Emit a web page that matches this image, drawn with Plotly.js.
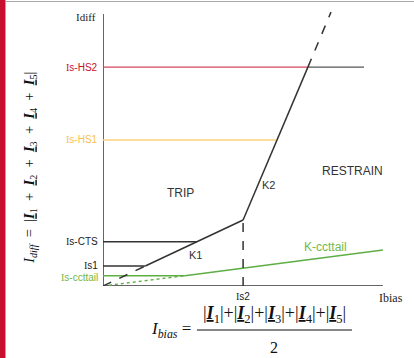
<!DOCTYPE html>
<html>
<head>
<meta charset="utf-8">
<script src="https://cdn.plot.ly/plotly-3.0.1.min.js"></script>
<style>
  html, body { margin: 0; padding: 0; background: #fff; }
  #wrap { position: relative; width: 414px; height: 358px; overflow: hidden; }
  #chart { position: absolute; left: 0; top: 0; width: 414px; height: 358px; }
  #redband { position: absolute; left: 0; top: 0; width: 5px; height: 358px; background: #c8102e; z-index: 5; }
  #grayv { position: absolute; left: 5px; top: 0; width: 1px; height: 358px; background: #a8a8a8; z-index: 5; }
  #grayh { position: absolute; left: 5px; top: 1px; width: 409px; height: 1px; background: #a8a8a8; z-index: 5; }
</style>
</head>
<body>
<div id="wrap">
  <div id="chart"></div>
  <div id="redband"></div>
  <div id="grayv"></div>
  <div id="grayh"></div>
</div>
<script>
// ---- data (arbitrary units) ----
const axisEndX = 9.33;
const axisEndY = 9.89;
const levelNames = ["Is-HS2", "Is-HS1", "Is-CTS", "Is1", "Is-ccttail"];
const levelValues = [7.96, 5.31, 1.61, 0.727, 0.375];
const levelLineEnds = [6.83, 5.80, 3.13, 1.41, 2.73];
const levelColors = ["#d6475f", "#fdd27a", "#333333", "#333333", "#5cae45"];
const levelLabelColors = ["#c8102e", "#f5c24c", "#222222", "#222222", "#72b84a"];
const levelLabelShift = [0, 0, 0, 1, -2];
const hs2ExtX = [6.83, 8.7];
const hs2ExtY = [7.96, 7.96];
const k1DashX = [0, 1.41];
const k1DashY = [0, 0.727];
const k1X = [1.41, 4.67];
const k1Y = [0.727, 2.4];
const is2X = [4.67, 4.67];
const is2Y = [0, 2.4];
const k2X = [4.67, 6.83];
const k2Y = [2.4, 7.96];
const k2DashX = [6.83, 7.6];
const k2DashY = [7.96, 9.96];
const kCcttailX = [2.73, 9.33];
const kCcttailY = [0.375, 1.31];
const ccttailDotX = [0, 2.73];
const ccttailDotY = [0, 0.375];
const is2Tick = 4.67;

const dark = "#333333";
const green = "#5cae45";
const traces = [];
function line(x, y, color, width, dash) {
  traces.push({x: x, y: y, type: "scatter", mode: "lines", hoverinfo: "skip",
    line: {color: color, width: width, dash: dash || "solid"}});
}
// axes
line([0, axisEndX], [0, 0], dark, 1.5);
line([0, 0], [0, axisEndY], dark, 1.5);
// horizontal levels
for (let i = 0; i < levelNames.length; i++) {
  line([0, levelLineEnds[i]], [levelValues[i], levelValues[i]], levelColors[i], 1.4);
}
line(hs2ExtX, hs2ExtY, "#555555", 1.4);
line(ccttailDotX, ccttailDotY, green, 1.4, "dot");
line(kCcttailX, kCcttailY, green, 1.4);
line(k1DashX, k1DashY, dark, 1.5, "dash");
line(k1X, k1Y, dark, 1.5);
line(is2X, is2Y, dark, 1.5, "dash");
line(k2X, k2Y, dark, 1.5);
line(k2DashX, k2DashY, dark, 1.5, "dash");

const sans = "Liberation Sans, Arial, sans-serif";
const serif = "Liberation Serif, Times New Roman, serif";
function I(rest) { return "<span style='font-family:Liberation Serif'>I</span>" + rest; }

const annotations = [];
for (let i = 0; i < levelNames.length; i++) {
  annotations.push({x: 0, y: levelValues[i], xref: "x", yref: "y", text: I(levelNames[i].slice(1)),
    showarrow: false, xanchor: "right", yanchor: "middle", xshift: -3, yshift: levelLabelShift[i],
    font: {family: sans, size: 10, color: levelLabelColors[i]}});
}
annotations.push({x: 0, y: 9.78, xref: "x", yref: "y", text: I("diff"), showarrow: false,
  xanchor: "right", yanchor: "middle", xshift: -5, font: {family: serif, size: 11, color: "#222"}});
annotations.push({x: is2Tick, y: 0, xref: "x", yref: "y", text: I("s2"), showarrow: false,
  xanchor: "center", yanchor: "top", yshift: -3, font: {family: sans, size: 10, color: "#222"}});
annotations.push({x: 9.6, y: 0, xref: "x", yref: "y", text: "Ibias", showarrow: false,
  xanchor: "center", yanchor: "top", yshift: -3, font: {family: serif, size: 12, color: "#222"}});
// region labels
annotations.push({x: 2.57, y: 3.38, xref: "x", yref: "y", text: "TRIP", showarrow: false,
  font: {family: sans, size: 12, color: "#333"}});
annotations.push({x: 8.33, y: 4.18, xref: "x", yref: "y", text: "RESTRAIN", showarrow: false,
  font: {family: sans, size: 12, color: "#333"}});
annotations.push({x: 3.07, y: 1.13, xref: "x", yref: "y", text: "K1", showarrow: false,
  font: {family: sans, size: 11, color: "#333"}});
annotations.push({x: 5.5, y: 3.67, xref: "x", yref: "y", text: "K2", showarrow: false,
  font: {family: sans, size: 11, color: "#333"}});
annotations.push({x: 7.4, y: 1.42, xref: "x", yref: "y", text: "K-ccttail", showarrow: false,
  font: {family: sans, size: 12, color: "#72b84a"}});

// formulas
function UI(n) { return "<u><i><b>I</b></i></u><sub>" + n + "</sub>"; }
const ytitle = "<i>I</i><sub><i>diff</i></sub>  =  |" + UI(1) + "  +  " + UI(2) + "  +  " + UI(3) +
  "  +  " + UI(4) + "  +  " + UI(5) + "|";
annotations.push({x: -0.243, y: 0.43, xref: "paper", yref: "paper", text: ytitle, showarrow: false,
  textangle: -90, xanchor: "center", yanchor: "middle", font: {family: serif, size: 14.5, color: "#111"}});
const numer = "|" + UI(1) + "|+|" + UI(2) + "|+|" + UI(3) + "|+|" + UI(4) + "|+|" + UI(5) + "|";
annotations.push({x: 0.57, y: -0.105, xref: "paper", yref: "paper", text: numer, showarrow: false,
  xanchor: "center", yanchor: "middle", font: {family: serif, size: 18, color: "#111"}});
annotations.push({x: 0.57, y: -0.225, xref: "paper", yref: "paper", text: "2", showarrow: false,
  xanchor: "center", yanchor: "middle", font: {family: serif, size: 16, color: "#111"}});
annotations.push({x: 0.3, y: -0.16, xref: "paper", yref: "paper", text: "<i>I</i><sub><i>bias</i></sub> =", showarrow: false,
  xanchor: "right", yanchor: "middle", font: {family: serif, size: 17, color: "#111"}});

const layout = {
  width: 414, height: 358,
  margin: {l: 103, r: 11, t: 11, b: 72},
  paper_bgcolor: "#ffffff", plot_bgcolor: "#ffffff",
  showlegend: false,
  xaxis: {range: [0, 10], visible: false, fixedrange: true},
  yaxis: {range: [0, 10], visible: false, fixedrange: true},
  annotations: annotations,
  shapes: [{type: "line", xref: "paper", yref: "paper", x0: 0.313, x1: 0.83, y0: -0.16, y1: -0.16,
    line: {color: "#111", width: 1.2}}]
};
Plotly.newPlot("chart", traces, layout, {displayModeBar: false, staticPlot: true});
</script>
</body>
</html>
